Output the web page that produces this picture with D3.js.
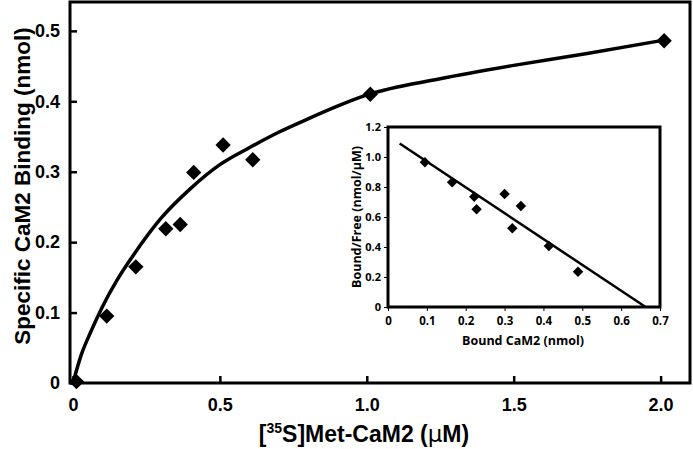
<!DOCTYPE html>
<html>
<head>
<meta charset="utf-8">
<script src="https://cdn.jsdelivr.net/npm/d3@7"></script>
<style>
  body { margin: 0; background: #fff; }
  svg text { font-family: "Liberation Sans", Arial, sans-serif; font-weight: bold; fill: #000; }
</style>
</head>
<body>
<svg class="chart" width="693" height="449"></svg>
<script>
// main saturation data
const concX = [0.012, 0.115, 0.214, 0.316, 0.365, 0.411, 0.511, 0.612, 1.012, 2.012];
const boundY = [0.002, 0.095, 0.165, 0.219, 0.225, 0.299, 0.338, 0.317, 0.410, 0.486];

// fitted curve
const fitCurveX = [0, 0.03, 0.06, 0.1, 0.15, 0.2, 0.3, 0.4, 0.5, 0.6, 0.7, 0.8, 0.9, 1.0, 1.25, 1.5, 1.75, 2.0];
const fitCurveY = [0, 0.042, 0.072, 0.108, 0.146, 0.178, 0.234, 0.276, 0.310, 0.334, 0.356, 0.375, 0.393, 0.409, 0.432, 0.451, 0.468, 0.486];

const mainXTicks = [0, 0.5, 1.0, 1.5, 2.0];
const mainXLabels = ["0", "0.5", "1.0", "1.5", "2.0"];
const mainYTicks = [0, 0.1, 0.2, 0.3, 0.4, 0.5];
const mainYLabels = ["0", "0.1", "0.2", "0.3", "0.4", "0.5"];

// Scatchard inset
const scatX = [0.095, 0.165, 0.222, 0.228, 0.300, 0.342, 0.320, 0.414, 0.489];
const scatY = [0.965, 0.831, 0.735, 0.651, 0.753, 0.673, 0.525, 0.407, 0.235];
const scatFitX = [0.03, 0.663];
const scatFitY = [1.09, 0];
const insetXTicks = [0, 0.1, 0.2, 0.3, 0.4, 0.5, 0.6, 0.7];
const insetYTicks = [0, 0.2, 0.4, 0.6, 0.8, 1.0, 1.2];

const svg = d3.select(".chart");

// ---- main plot ----
const x = d3.scaleLinear().domain([-0.01, 2.1]).range([70, 690]);
const y = d3.scaleLinear().domain([0, 0.541]).range([383, 2]);

svg.append("rect")
    .attr("x", 70).attr("y", 2)
    .attr("width", 620).attr("height", 381)
    .attr("fill", "none").attr("stroke", "#000").attr("stroke-width", 3);

const xAxis = svg.append("g")
    .attr("transform", "translate(0,383)")
    .call(d3.axisBottom(x).tickValues(mainXTicks).tickSizeInner(-7).tickSizeOuter(0)
        .tickFormat((d, i) => mainXLabels[i]));
xAxis.select(".domain").remove();
xAxis.selectAll("line").attr("stroke", "#000").attr("stroke-width", 2.5);
xAxis.selectAll("text").attr("y", 15).attr("font-size", 18)
    .style("font-family", "Liberation Sans, Arial, sans-serif").style("font-weight", "bold");

const yAxis = svg.append("g")
    .attr("transform", "translate(70,0)")
    .call(d3.axisLeft(y).tickValues(mainYTicks).tickSizeInner(-7).tickSizeOuter(0)
        .tickFormat((d, i) => mainYLabels[i]));
yAxis.select(".domain").remove();
yAxis.selectAll("line").attr("stroke", "#000").attr("stroke-width", 2.5);
yAxis.selectAll("text").attr("x", -10).attr("font-size", 18)
    .style("font-family", "Liberation Sans, Arial, sans-serif").style("font-weight", "bold");

svg.append("path")
    .datum(fitCurveX.map((d, i) => [d, fitCurveY[i]]))
    .attr("fill", "none").attr("stroke", "#000").attr("stroke-width", 3.5)
    .attr("d", d3.line().x(d => x(d[0])).y(d => y(d[1])).curve(d3.curveMonotoneX));

const diamond = d3.symbol().type(d3.symbolDiamond2);
svg.selectAll(".pt")
    .data(concX.map((d, i) => [d, boundY[i]]))
    .enter().append("path")
    .attr("class", "pt")
    .attr("d", diamond.size(150))
    .attr("transform", d => `translate(${x(d[0])},${y(d[1])})`)
    .attr("fill", "#000");

svg.append("text")
    .attr("transform", "translate(30,186) rotate(-90)")
    .attr("text-anchor", "middle")
    .attr("font-size", 22.5)
    .text("Specific CaM2 Binding (nmol)");

const xt = svg.append("text")
    .attr("x", 364).attr("y", 442)
    .attr("text-anchor", "middle")
    .attr("font-size", 23);
xt.append("tspan").text("[");
xt.append("tspan").attr("font-size", 14).attr("dy", -9).text("35");
xt.append("tspan").attr("dy", 9).text("S]Met-CaM2 (");
xt.append("tspan").style("font-family", "DejaVu Sans, sans-serif").style("font-weight", "normal").text("\u03bc");
xt.append("tspan").text("M)");

// ---- inset Scatchard plot ----
const ix = d3.scaleLinear().domain([0, 0.7]).range([388, 660]);
const iy = d3.scaleLinear().domain([0, 1.2]).range([307, 127]);

svg.append("rect")
    .attr("x", 388).attr("y", 127)
    .attr("width", 272).attr("height", 180)
    .attr("fill", "#fff").attr("stroke", "#000").attr("stroke-width", 3);

const ixAxis = svg.append("g")
    .attr("transform", "translate(0,307)")
    .call(d3.axisBottom(ix).tickValues(insetXTicks).tickSize(4)
        .tickFormat(d => d === 0 ? "0" : d3.format(".1f")(d)));
ixAxis.select(".domain").remove();
ixAxis.selectAll("line").attr("stroke", "#000");
ixAxis.selectAll("text").attr("y", 10).attr("font-size", 11.5)
    .style("font-family", "Open Sans, sans-serif").style("font-weight", "bold");

const iyAxis = svg.append("g")
    .attr("transform", "translate(388,0)")
    .call(d3.axisLeft(iy).tickValues(insetYTicks).tickSize(4)
        .tickFormat(d => d === 0 ? "0" : d3.format(".1f")(d)));
iyAxis.select(".domain").remove();
iyAxis.selectAll("line").attr("stroke", "#000");
iyAxis.selectAll("text").attr("x", -7).attr("font-size", 11)
    .style("font-family", "Open Sans, sans-serif").style("font-weight", "bold");

svg.append("path")
    .datum(scatFitX.map((d, i) => [d, scatFitY[i]]))
    .attr("fill", "none").attr("stroke", "#000").attr("stroke-width", 2.5)
    .attr("d", d3.line().x(d => ix(d[0])).y(d => iy(d[1])));

svg.selectAll(".ipt")
    .data(scatX.map((d, i) => [d, scatY[i]]))
    .enter().append("path")
    .attr("class", "ipt")
    .attr("d", d3.symbol().type(d3.symbolDiamond2).size(70))
    .attr("transform", d => `translate(${ix(d[0])},${iy(d[1])})`)
    .attr("fill", "#000");

svg.append("text")
    .attr("transform", "translate(361,217) rotate(-90)")
    .attr("text-anchor", "middle")
    .attr("font-size", 12.5)
    .style("font-family", "Open Sans, sans-serif")
    .text("Bound/Free (nmol/\u00b5M)");

svg.append("text")
    .attr("x", 523).attr("y", 345)
    .attr("text-anchor", "middle")
    .attr("font-size", 12.5)
    .style("font-family", "Open Sans, sans-serif")
    .text("Bound CaM2 (nmol)");
</script>
</body>
</html>
